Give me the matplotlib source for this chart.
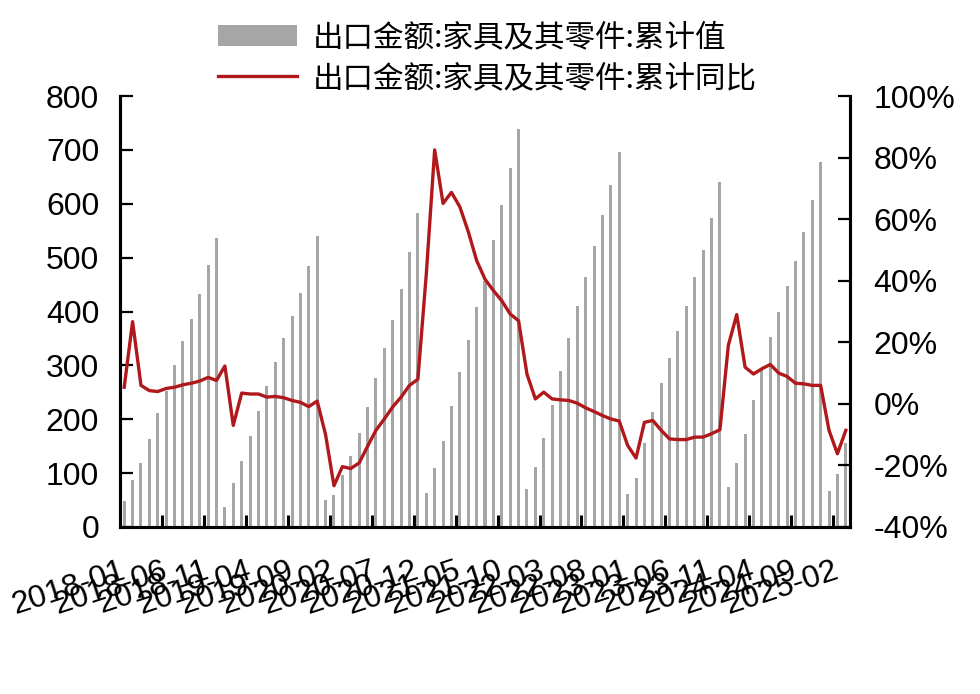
import matplotlib
matplotlib.use("Agg")
import matplotlib.pyplot as plt
from matplotlib.patches import Patch
from matplotlib.lines import Line2D
import numpy as np

plt.rcParams['font.family'] = ['Liberation Sans', 'Noto Sans CJK SC', 'DejaVu Sans']

# ---- data ----
months = [f"{y}-{m:02d}" for y in range(2018, 2026) for m in range(1, 13)][:87]

cum_value = [
    47.6, 86.5, 118.6, 163, 211, 253, 301, 345, 387, 432, 487, 537,      # 2018
    37, 81.5, 122, 168, 216, 262.5, 306, 351, 392, 435, 484, 540,        # 2019
    50, 59, 96, 131, 174, 223.6, 276.7, 331.7, 384, 442, 510, 582,       # 2020
    64, 109, 160, 224, 287, 348, 409, 457, 533, 597, 666, 738,           # 2021
    70, 110.6, 166, 227, 290, 351, 411, 464, 521, 579, 635, 696,         # 2022
    60.5, 90.8, 156, 214, 267, 313, 363, 411, 464.5, 514.5, 574, 640.5,  # 2023
    74, 118.6, 173, 236.6, 295, 353, 400, 448, 494, 548, 607, 677.6,     # 2024
    66, 97.6, 156,                                                       # 2025
]

cum_yoy = [
    5.4, 26.7, 6.0, 4.3, 4.0, 5.0, 5.4, 6.2, 6.7, 7.4, 8.6, 7.6,
    12.3, -7.0, 3.5, 3.2, 3.2, 2.2, 2.4, 2.0, 1.1, 0.5, -0.9, 0.9,
    -10.0, -26.6, -20.4, -21.0, -19.2, -13.8, -8.6, -4.9, -1.0, 2.2, 6.0, 8.0,
    42.0, 82.5, 65.1, 68.7, 64.0, 56.0, 46.6, 40.5, 36.8, 33.5, 29.2, 27.0,
    9.7, 1.6, 3.8, 1.6, 1.3, 1.1, 0.2, -1.3, -2.5, -3.8, -4.9, -5.6,
    -13.5, -17.6, -6.0, -5.4, -8.6, -11.4, -11.6, -11.6, -10.8, -10.8, -9.7, -8.4,
    19.0, 29.0, 11.9, 9.7, 11.4, 12.8, 10.0, 8.9, 6.7, 6.5, 6.0, 6.0,
    -8.6, -16.2, -8.6,
]

tick_labels = ['2018-01', '2018-06', '2018-11', '2019-04', '2019-09', '2020-02',
               '2020-07', '2020-12', '2021-05', '2021-10', '2022-03', '2022-08',
               '2023-01', '2023-06', '2023-11', '2024-04', '2024-09', '2025-02']

label_bar = '出口金额:家具及其零件:累计值'
label_line = '出口金额:家具及其零件:累计同比'

# ---- styles ----
bar_color = '#A6A6A6'
line_color = '#B0181C'

fig = plt.figure(figsize=(9.8, 6.94), dpi=100)
ax = fig.add_axes([120 / 980, 1 - 527 / 694, 730 / 980, 431 / 694])

x = np.arange(len(months))
ax.bar(x, cum_value, width=0.36, color=bar_color, zorder=2)
ax.set_xlim(-0.5, len(months) - 0.5)
ax.set_ylim(0, 800)
ax.set_yticks(range(0, 801, 100))

ax2 = ax.twinx()
ax2.plot(x, cum_yoy, color=line_color, lw=2.4, solid_joinstyle='round', zorder=3)
ax2.set_ylim(-40, 100)
ax2.set_yticks(range(-40, 101, 20))
ax2.set_yticklabels([f"{v}%" for v in range(-40, 101, 20)])

# x ticks: labels at categories, marks at boundaries
label_pos = [months.index(t) for t in tick_labels]
ax.set_xticks(label_pos)
ax.set_xticklabels(tick_labels, rotation=18, ha='right', va='center',
                   rotation_mode='anchor')
ax.set_xticks([p - 0.5 for p in label_pos[1:]], minor=True)
ax.tick_params(axis='x', which='major', length=0, pad=31, labelsize=23)
ax.tick_params(axis='x', which='minor', direction='in', length=9, width=2.2,
               color='black')

ax.tick_params(axis='y', direction='in', length=9, width=1.6, pad=15, labelsize=23)
ax2.tick_params(axis='y', direction='in', length=9, width=1.6, pad=17, labelsize=23)

for a in (ax, ax2):
    a.spines['top'].set_visible(False)
    for s in ('left', 'right', 'bottom'):
        a.spines[s].set_linewidth(2.2)
        a.spines[s].set_color('black')

handles = [Patch(facecolor=bar_color, edgecolor='none'),
           Line2D([0], [0], color=line_color, lw=2.4)]
fig.legend(handles, [label_bar, label_line], loc='center',
           bbox_to_anchor=(487 / 980, 1 - 58 / 694), frameon=False,
           prop={'family': ['Noto Sans CJK SC', 'DejaVu Sans'], 'size': 22},
           handlelength=2.6, handleheight=0.7, handletextpad=0.5,
           labelspacing=0.32, borderpad=0.2)

fig.savefig('out.png', dpi=100)
